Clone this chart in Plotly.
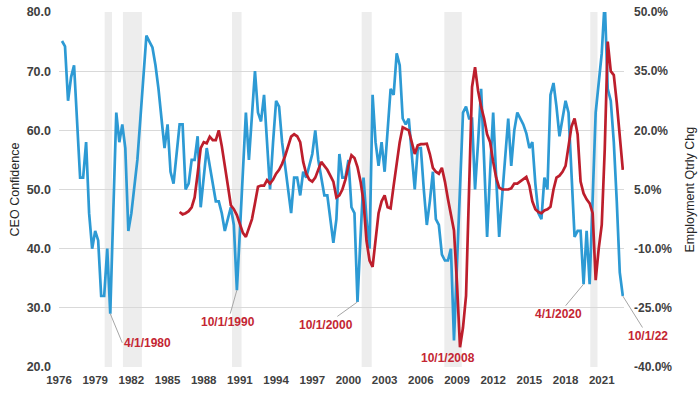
import pandas as pd
import plotly.graph_objects as go

# CEO Confidence (quarterly, 4/1/1976 .. 10/1/2022)
ceo_confidence = [
    75.1, 74.2, 65, 69, 71, 61.5, 52, 52, 58, 46,        # 1976Q2..
    40, 43, 41.4, 32, 32, 40, 29, 46, 63, 58,
    61, 57, 43, 46, 50, 55, 62, 70, 76, 75,
    74, 71, 67, 62, 57, 61, 53, 51, 56, 61,
    61, 50, 51, 55, 55, 59, 47, 52, 57, 54,
    51, 48, 48, 46, 43, 45, 47, 44, 33, 43,
    53, 63, 55, 62, 70, 63, 61.5, 66, 58, 50,
    58, 65, 64, 58, 54, 50, 46, 52, 52, 49,
    53, 52, 54, 56, 60, 55, 52, 49, 49, 45,
    41, 45, 56, 52, 52, 55, 47, 46, 31, 42,
    52, 45, 40, 66, 58, 54, 58, 53, 60, 67,
    66, 73, 71, 62, 61, 62, 56, 50, 57, 57,
    50, 44, 48, 53, 45, 44, 39, 38, 38, 40,
    24.5, 38, 51, 63, 64, 62, 62, 50, 58, 67,
    55, 42, 53, 63, 52, 42, 49, 56, 62, 54,
    60, 63, 62, 61, 59.5, 57, 58, 51, 46, 45,
    52, 50, 66, 68, 64, 59, 62, 65, 63, 52,
    42, 43, 43, 34, 43, 34, 49, 63, 68, 73,
    82, 67, 65, 58, 48, 36, 32,
]

# Employment quarterly change, % (1/1/1986 .. 10/1/2022)
employment_chg = [
    -0.7, -1.3, -1, -0.5, 0.5, 3, 9, 15.5, 17, 16.7,
    18.4, 17.5, 17.5, 20, 16, 11.5, 6, 1, 0, -1.5,
    -4, -6, -7, -5, -2.5, 1.5, 5.7, 6, 6, 7.4,
    6.5, 7.5, 9, 10, 11.5, 13.5, 16, 18.4, 19, 18.5,
    17, 12, 9, 7.5, 7, 8, 10, 12, 11, 10,
    8.5, 7, 3, 3.5, 5, 7.5, 11, 13.7, 13, 10.7,
    7, 2, -8, -13, -14.6, -8, -1, 2, 3.5, 0.5,
    0.2, 6, 12, 17, 20.8, 20.5, 20, 17, 14, 16.2,
    16.5, 16.5, 16.6, 14, 10.5, 9.5, 9, 10.5, 7, 2.6,
    -1, -5.4, -19, -35, -30, -22, 5, 31, 36, 30,
    26, 23, 19, 17, 12, 8, 5.5, 5, 5, 5,
    5.3, 6.5, 6.5, 7, 7.5, 8.2, 6, 2, 0, -0.7,
    -1, -0.3, 0, 0.6, 5, 8, 8.5, 9.5, 11, 16,
    21, 23, 19, 7, 4, 2.5, 1.5, -1, -18, -10,
    -4, 15, 42.5, 35, 34, 27, 19, 10,
]

recession_starts = ["1979-10-15", "1981-04-20", "1990-05-05", "2001-02-05", "2007-12-15", "2020-01-20"]
recession_ends = ["1980-05-25", "1982-11-15", "1991-02-20", "2001-12-05", "2009-05-25", "2020-08-25"]

x_tick_years = [1976, 1979, 1982, 1985, 1988, 1991, 1994, 1997, 2000, 2003, 2006, 2009, 2012, 2015, 2018, 2021]
left_ticks = [20, 30, 40, 50, 60, 70, 80]
right_ticks = [-40, -25, -10, 5, 20, 35, 50]

# annotated points: (label, date, value)
callouts = [
    ("4/1/1980", "1980-04-01", 29),
    ("10/1/1990", "1990-10-01", 33),
    ("10/1/2000", "2000-10-01", 31),
    ("4/1/2020", "2019-07-01", 34),
    ("10/1/22", "2022-10-01", 32),
]
label_2008 = ("10/1/2008", "2008-10-01", 24.5)

ceo_dates = pd.date_range(end="2022-10-01", periods=len(ceo_confidence), freq="QS")
emp_dates = pd.date_range(end="2022-10-01", periods=len(employment_chg), freq="QS")

BLUE = "#2D9AD4"
RED = "#BD1E2C"
LABEL_RED = "#C42633"
TXT = "#404040"
FONT = "Liberation Sans, Arial, sans-serif"

fig = go.Figure()
fig.add_trace(go.Scatter(x=ceo_dates, y=ceo_confidence, mode="lines",
                         line=dict(color=BLUE, width=2.7), name="CEO Confidence"))
fig.add_trace(go.Scatter(x=emp_dates, y=employment_chg, mode="lines", yaxis="y2",
                         line=dict(color=RED, width=2.7), name="Employment Qtrly Chg"))

for s, e in zip(recession_starts, recession_ends):
    fig.add_shape(type="rect", xref="x", yref="y domain", x0=s, x1=e, y0=0, y1=1,
                  fillcolor="#EDEDED", line=dict(width=0), layer="below")

offsets = [(12, 29, "left"), (-9, 32, "center"), (-32, 23, "center"), (-25, 30, "center"), (25, 40, "center")]
for (txt, d, v), (ax, ay, xa) in zip(callouts, offsets):
    fig.add_annotation(x=d, y=v, xref="x", yref="y", text=txt, showarrow=True,
                       ax=ax, ay=ay, xanchor=xa, yanchor="middle", arrowhead=0,
                       arrowwidth=1, arrowcolor="#A6A6A6", standoff=0,
                       font=dict(family=FONT, size=12, color=LABEL_RED, weight="bold"))
fig.add_annotation(x=label_2008[1], y=label_2008[2], xref="x", yref="y", text=label_2008[0],
                   showarrow=False, xshift=-6, yshift=-18,
                   font=dict(family=FONT, size=12, color=LABEL_RED, weight="bold"))

# right axis title placed as rotated text beside the tick labels
fig.add_annotation(x=1.1168, y=0.5, xref="paper", yref="paper", text="Employment Qtrly Chg",
                   showarrow=False, textangle=-90, xanchor="center", yanchor="middle",
                   font=dict(family=FONT, size=12.5, color="#262626"))

fig.update_layout(
    width=700, height=394,
    margin=dict(l=59, r=76, t=12, b=27),
    paper_bgcolor="white", plot_bgcolor="white",
    showlegend=False,
    font=dict(family=FONT, color=TXT),
    xaxis=dict(
        type="date", range=["1976-01-01", "2022-11-06"], automargin=False,
        tickvals=[f"{y}-01-01" for y in x_tick_years],
        ticktext=[str(y) for y in x_tick_years],
        showgrid=False, zeroline=False, showline=False, ticks="", ticklabelstandoff=4,
        tickfont=dict(family=FONT, size=11.5, color=TXT, weight="bold"),
    ),
    yaxis=dict(
        range=[20, 80], tickvals=left_ticks, ticktext=[f"{v:.1f}" for v in left_ticks],
        automargin=False,
        showgrid=True, gridcolor="#D9D9D9", gridwidth=1, zeroline=False, showline=False,
        ticks="", ticklabelstandoff=7,
        tickfont=dict(family=FONT, size=12.5, color=TXT, weight="bold"),
        title=dict(text="CEO Confidence", standoff=4,
                   font=dict(family=FONT, size=12.5, color="#262626")),
    ),
    yaxis2=dict(
        overlaying="y", side="right", range=[-40, 50], automargin=False,
        tickvals=right_ticks, ticktext=[f"{v:.1f}%" for v in right_ticks],
        showgrid=False, zeroline=False, showline=False,
        ticks="", ticklabelstandoff=9,
        tickfont=dict(family=FONT, size=12, color=TXT, weight="bold"),
    ),
)

fig.write_html("out.html", config={"displayModeBar": False},
               post_script="document.body.style.margin='0';")
